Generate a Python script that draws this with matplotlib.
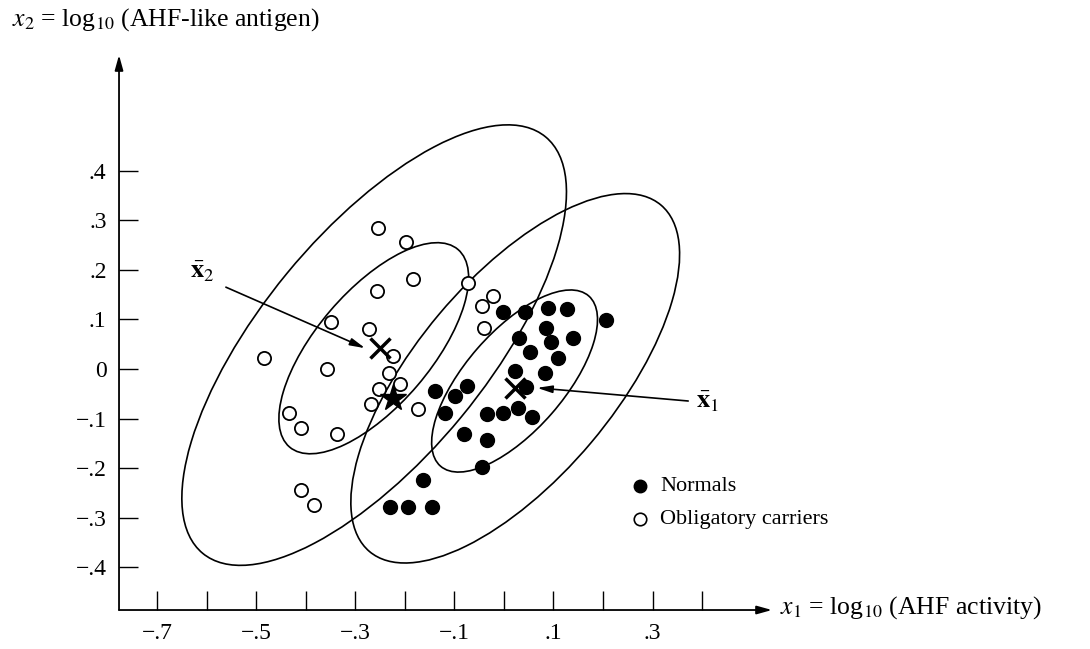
import matplotlib
matplotlib.use("Agg")
import matplotlib.pyplot as plt
from matplotlib.patches import Ellipse

plt.rcParams['font.family'] = ['Liberation Serif', 'DejaVu Serif']
plt.rcParams['mathtext.fontset'] = 'stix'

# --- data ---
normals_x1 = [-0.002, 0.043, 0.089, 0.127, 0.206, 0.085, 0.031, 0.095, 0.140, 0.053,
              0.109, 0.022, 0.083, 0.045, 0.029, -0.034, -0.002, 0.057, -0.139, -0.099,
              -0.074, -0.119, -0.080, -0.034, -0.044, -0.163, -0.230, -0.193, -0.145]
normals_x2 = [0.115, 0.115, 0.123, 0.121, 0.099, 0.083, 0.063, 0.054, 0.063, 0.034,
              0.022, -0.004, -0.008, -0.036, -0.079, -0.091, -0.089, -0.097, -0.044, -0.054,
              -0.034, -0.089, -0.131, -0.143, -0.198, -0.224, -0.278, -0.278, -0.278]

carriers_x1 = [-0.254, -0.197, -0.183, -0.256, -0.072, -0.022, -0.044, -0.040, -0.272, -0.224,
               -0.232, -0.210, -0.252, -0.268, -0.173, -0.349, -0.484, -0.357, -0.434, -0.409,
               -0.337, -0.409, -0.383]
carriers_x2 = [0.284, 0.256, 0.181, 0.157, 0.173, 0.147, 0.127, 0.083, 0.081, 0.026,
               -0.008, -0.030, -0.040, -0.071, -0.081, 0.095, 0.022, 0.000, -0.089, -0.119,
               -0.131, -0.244, -0.274]

mean_normals = (0.022, -0.039)
mean_carriers = (-0.251, 0.042)
star_pt = (-0.224, -0.058)

# contour ellipses (carriers 50%, 95%, normals 50%, 95%): centre, width, height, angle
ell_centers = [(-0.2626, 0.0419), (-0.2618, 0.0482), (0.0216, -0.0242), (0.0229, -0.0187)]
ell_widths = [0.5236, 1.0880, 0.4552, 0.9132]
ell_heights = [0.2316, 0.4556, 0.1992, 0.4014]
ell_angles = [49.5, 50.5, 48.9, 49.9]

xticks = [-0.7, -0.6, -0.5, -0.4, -0.3, -0.2, -0.1, 0.0, 0.1, 0.2, 0.3, 0.4]
xticklabels = ['\u2212.7', '', '\u2212.5', '', '\u2212.3', '', '\u2212.1', '', '.1', '', '.3', '']
yticks = [0.4, 0.3, 0.2, 0.1, 0.0, -0.1, -0.2, -0.3, -0.4]
yticklabels = ['.4', '.3', '.2', '.1', '0', '\u2212.1', '\u2212.2', '\u2212.3', '\u2212.4']

X0, Y0 = -0.7767, -0.4859   # where the axes cross

fig = plt.figure(figsize=(10.9, 6.49), dpi=100)
ax = fig.add_axes([0, 0, 1, 1])
ax.set_xlim(-1.0169, 1.1829)
ax.set_ylim(-0.5645, 0.7440)

for s in ax.spines.values():
    s.set_visible(False)
ax.spines['left'].set_position(('data', X0))
ax.spines['bottom'].set_position(('data', Y0))

ax.set_xticks(xticks)
ax.set_xticklabels(xticklabels)
ax.set_yticks(yticks)
ax.set_yticklabels(yticklabels)
ax.tick_params(direction='in', length=14, width=1.0, labelsize=17, pad=9)

# axis arrows
arr = dict(arrowstyle='-|>,head_length=0.9,head_width=0.25', color='black', lw=1.3,
           shrinkA=0, shrinkB=0)
ax.annotate('', xy=(X0, 0.633), xytext=(X0, Y0), arrowprops=arr)
ax.annotate('', xy=(0.541, Y0), xytext=(X0, Y0), arrowprops=arr)

for c, w, h, a in zip(ell_centers, ell_widths, ell_heights, ell_angles):
    ax.add_patch(Ellipse(c, w, h, angle=a, fill=False, ec='black', lw=1.2))

ax.plot(carriers_x1, carriers_x2, 'o', ms=9.5, mfc='white', mec='black', mew=1.3, ls='none')
ax.plot(normals_x1, normals_x2, 'o', ms=10, mfc='black', mec='black', ls='none')
ax.plot(*star_pt, marker='*', ms=20, color='black')
ax.plot(*mean_carriers, marker='x', ms=15, mew=2.5, color='black')
ax.plot(*mean_normals, marker='x', ms=15, mew=2.5, color='black')

# mean labels with arrows
harr = dict(arrowstyle='-|>,head_length=0.9,head_width=0.22', color='black', lw=1.2,
            shrinkA=0, shrinkB=0)
ax.annotate('', xy=(-0.280, 0.042), xytext=(-0.561, 0.165), arrowprops=harr)
ax.text(-0.585, 0.196, r'$\bar{\mathbf{x}}_2$', fontsize=19, ha='right', va='center')
ax.annotate('', xy=(0.067, -0.038), xytext=(0.372, -0.0645), arrowprops=harr)
ax.text(0.388, -0.066, r'$\bar{\mathbf{x}}_1$', fontsize=19, ha='left', va='center')

# legend
ax.plot(-0.7 + (640 - 157) / 495.5, (369 - 486) / 496, 'o', ms=9, color='black')
ax.plot(-0.7 + (640 - 157) / 495.5, (369 - 519) / 496, 'o', ms=9, mfc='white', mec='black', mew=1.2)
ax.text(-0.7 + (660 - 157) / 495.5, (369 - 486) / 496, 'Normals', fontsize=16, va='center')
ax.text(-0.7 + (660 - 157) / 495.5, (369 - 519) / 496, 'Obligatory carriers', fontsize=16, va='center')

# axis titles
fig.text(12 / 1090, 1 - 20 / 649, r'$x_2$ = log$_{10}$ (AHF-like antigen)',
         fontsize=18.5, va='center', ha='left')
fig.text(780 / 1090, 1 - 608 / 649, r'$x_1$ = log$_{10}$ (AHF activity)',
         fontsize=18.5, va='center', ha='left')

fig.savefig('out.png', dpi=100)
